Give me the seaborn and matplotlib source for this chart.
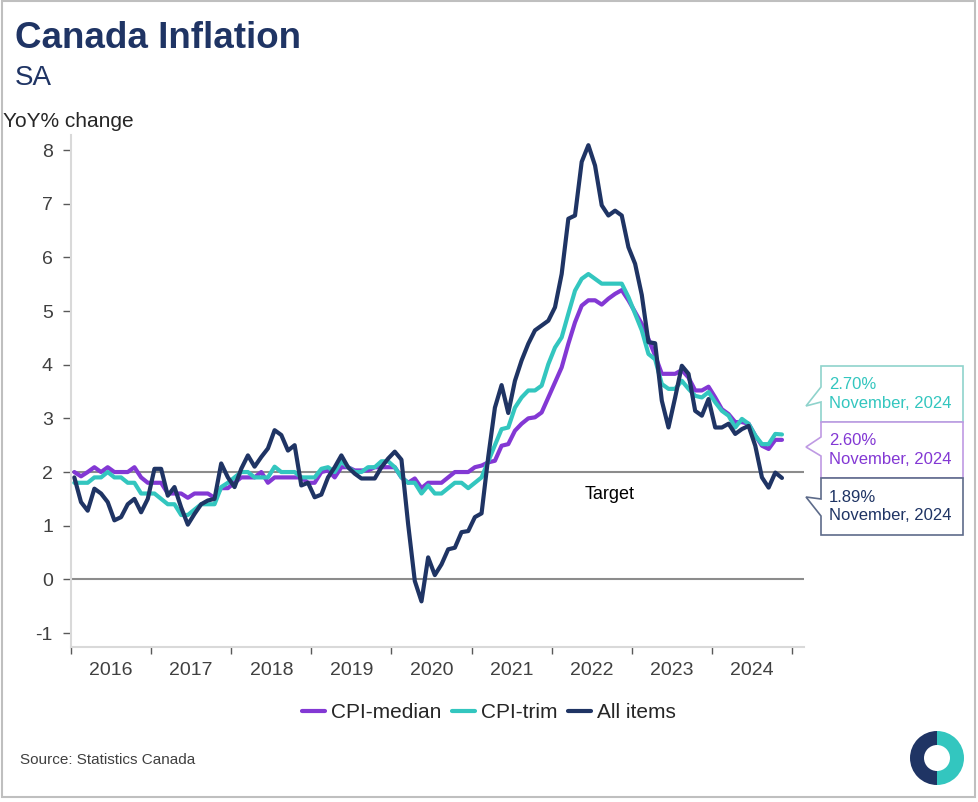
import numpy as np
import pandas as pd
import matplotlib
matplotlib.use("Agg")
import matplotlib.pyplot as plt
import seaborn as sns
from matplotlib.patches import Polygon, Wedge, Rectangle
from matplotlib.lines import Line2D

# ---------------- data ----------------
years = ["2016", "2017", "2018", "2019", "2020", "2021", "2022", "2023", "2024"]
y_ticks = [-1, 0, 1, 2, 3, 4, 5, 6, 7, 8]

all_items = [
    1.90, 1.44, 1.28, 1.69, 1.60, 1.44, 1.10, 1.16, 1.40, 1.50, 1.25, 1.50,
    2.06, 2.06, 1.56, 1.72, 1.34, 1.02, 1.22, 1.40, 1.47, 1.50, 2.16, 1.90,
    1.72, 2.06, 2.31, 2.10, 2.28, 2.44, 2.78, 2.69, 2.40, 2.50, 1.75, 1.80,
    1.53, 1.58, 1.90, 2.09, 2.31, 2.09, 1.97, 1.88, 1.88, 1.88, 2.09, 2.25,
    2.38, 2.23, 1.03, -0.03, -0.41, 0.41, 0.08, 0.28, 0.56, 0.59, 0.88, 0.90,
    1.16, 1.23, 2.28, 3.20, 3.62, 3.10, 3.70, 4.08, 4.39, 4.64, 4.73, 4.82,
    5.07, 5.69, 6.72, 6.78, 7.78, 8.09, 7.71, 6.97, 6.78, 6.87, 6.78, 6.19,
    5.88, 5.30, 4.42, 4.40, 3.33, 2.83, 3.39, 3.98, 3.83, 3.14, 3.05, 3.36,
    2.83, 2.83, 2.90, 2.71, 2.80, 2.86, 2.49, 1.90, 1.71, 1.99, 1.89,
]
cpi_median = [
    2.00, 1.92, 2.00, 2.09, 2.00, 2.09, 2.00, 2.00, 2.00, 2.09, 1.90, 1.80,
    1.80, 1.80, 1.60, 1.60, 1.60, 1.52, 1.60, 1.60, 1.60, 1.52, 1.70, 1.70,
    1.80, 1.90, 1.90, 1.90, 2.00, 1.80, 1.90, 1.90, 1.90, 1.90, 1.90, 1.80,
    1.80, 2.00, 2.03, 1.90, 2.09, 2.09, 2.03, 2.03, 2.03, 2.09, 2.09, 2.09,
    2.09, 1.90, 1.80, 1.88, 1.70, 1.80, 1.80, 1.80, 1.90, 2.00, 2.00, 2.00,
    2.09, 2.12, 2.18, 2.21, 2.49, 2.52, 2.77, 2.90, 3.00, 3.02, 3.11, 3.39,
    3.67, 3.95, 4.39, 4.79, 5.10, 5.20, 5.20, 5.12, 5.23, 5.32, 5.39, 5.20,
    4.98, 4.76, 4.48, 4.17, 3.83, 3.83, 3.83, 3.90, 3.76, 3.52, 3.52, 3.59,
    3.39, 3.17, 3.08, 2.93, 2.93, 2.90, 2.68, 2.49, 2.43, 2.60, 2.60,
]
cpi_trim = [
    1.80, 1.80, 1.80, 1.90, 1.90, 2.00, 1.90, 1.90, 1.80, 1.80, 1.60, 1.60,
    1.60, 1.50, 1.40, 1.40, 1.20, 1.20, 1.30, 1.40, 1.40, 1.40, 1.72, 1.80,
    1.90, 2.00, 2.00, 1.90, 1.90, 1.90, 2.10, 2.00, 2.00, 2.00, 1.90, 1.90,
    1.90, 2.06, 2.09, 2.00, 2.20, 2.09, 2.00, 2.00, 2.09, 2.09, 2.20, 2.20,
    2.09, 1.90, 1.80, 1.80, 1.60, 1.75, 1.60, 1.60, 1.70, 1.80, 1.80, 1.70,
    1.80, 1.90, 2.20, 2.50, 2.80, 2.83, 3.20, 3.39, 3.52, 3.52, 3.61, 4.01,
    4.32, 4.51, 4.95, 5.38, 5.60, 5.69, 5.60, 5.51, 5.51, 5.51, 5.51, 5.26,
    4.95, 4.64, 4.20, 4.10, 3.64, 3.55, 3.55, 3.70, 3.55, 3.42, 3.39, 3.49,
    3.30, 3.14, 3.05, 2.83, 2.99, 2.90, 2.68, 2.52, 2.52, 2.71, 2.70,
]
series_names = ["CPI-median", "CPI-trim", "All items"]
callout_values = ["2.70%", "2.60%", "1.89%"]
callout_date = "November, 2024"

# ---------------- style ----------------
NAVY = "#1f3464"
PURPLE = "#8338d4"
TEAL = "#33c6bf"
TXT = "#404040"

sns.set_style("white")
plt.rcParams["font.family"] = ["Liberation Sans", "DejaVu Sans"]
plt.rcParams["axes.unicode_minus"] = False

W, H = 979, 802
fig = plt.figure(figsize=(W / 100, H / 100), dpi=100)


def fx(x):
    return x / W


def fy(y):
    return 1 - y / H


ax = fig.add_axes([fx(71), fy(647), fx(804) - fx(71), fy(135) - fy(647)])

months = np.arange(len(all_items))
df = pd.DataFrame({
    "month": np.tile(months, 3),
    "value": cpi_median + cpi_trim + all_items,
    "series": np.repeat(series_names, len(months)),
})
palette = {"CPI-median": PURPLE, "CPI-trim": TEAL, "All items": NAVY}

# reference lines (0 and target 2)
ax.axhline(0, color="#8c8c8c", lw=1.5, zorder=1)
ax.axhline(2, color="#8c8c8c", lw=1.5, zorder=1)

sns.lineplot(data=df, x="month", y="value", hue="series", hue_order=series_names,
             palette=palette, lw=3, ax=ax, legend=False, zorder=3)

ax.set_xlim(-0.5, 109.3)
ax.set_ylim(-1.26, 8.28)
ax.set_xlabel("")
ax.set_ylabel("")

for s in ["top", "right"]:
    ax.spines[s].set_visible(False)
for s in ["left", "bottom"]:
    ax.spines[s].set_visible(True)
    ax.spines[s].set_color("#d9d9d9")
    ax.spines[s].set_linewidth(1.5)

ax.set_yticks(y_ticks)
ax.set_yticklabels([str(v) for v in y_ticks])
ax.tick_params(axis="y", direction="out", length=6, width=1, color="#595959",
               labelsize=14, labelcolor=TXT, pad=7, left=True)

year_bounds = [-0.5 + 12 * i for i in range(len(years) + 1)]
ax.set_xticks(year_bounds)
ax.set_xticklabels([""] * len(year_bounds))
ax.set_xticks([5.5 + 12 * i for i in range(len(years))], minor=True)
ax.set_xticklabels(years, minor=True)
ax.tick_params(axis="x", which="major", direction="out", length=5, width=1,
               color="#595959", bottom=True)
ax.tick_params(axis="x", which="minor", length=0, labelsize=14,
               labelcolor=TXT, pad=10.5)
ax.grid(False)

fig.text(fx(585), fy(499), "Target", fontsize=13, color="black", va="baseline")

# titles
fig.text(fx(15), fy(48), "Canada Inflation", fontsize=26.5, fontweight="bold",
         color=NAVY, va="baseline")
fig.text(fx(15), fy(85), "SA", fontsize=20, color=NAVY, va="baseline")
fig.text(fx(3), fy(127), "YoY% change", fontsize=15, color="#262626", va="baseline")
fig.text(fx(20), fy(764), "Source: Statistics Canada", fontsize=11, color=TXT,
         va="baseline")

# legend
handles = [Line2D([0], [0], color=palette[n], lw=3) for n in series_names]
fig.legend(handles, series_names, loc="center", bbox_to_anchor=(fx(489), fy(713)),
           ncol=3, frameon=False, fontsize=15, handlelength=1.1,
           handletextpad=0.3, columnspacing=0.5, labelcolor="#262626")

# callouts
callouts = [
    (366, 422, 387, 402, 406, TEAL, "#8fd3cc"),
    (422, 478, 437, 456, 447, PURPLE, "#bf9ae3"),
    (478, 535, 499, 516, 497, NAVY, "#5d6b8a"),
]
for (top, bot, a1, a2, tip, tcol, ecol), val in zip(callouts, callout_values):
    xl, xr, xt = 821, 963, 806
    pts = [(xl, top), (xr, top), (xr, bot), (xl, bot), (xl, a2), (xt, tip), (xl, a1)]
    poly = Polygon([(fx(x), fy(y)) for x, y in pts], closed=True,
                   transform=fig.transFigure, facecolor="white", edgecolor=ecol,
                   lw=1.2, zorder=5)
    fig.add_artist(poly)
    mid = (top + bot) / 2
    fig.text(fx(829), fy(mid - 9.5), val, fontsize=12, color=tcol, va="center",
             zorder=6)
    fig.text(fx(829), fy(mid + 9.5), callout_date, fontsize=12, color=tcol,
             va="center", zorder=6)

# logo
cx, cy = 937 / 100, (H - 758) / 100
fig.add_artist(Wedge((cx, cy), 0.27, 90, 270, width=0.14, facecolor=NAVY,
                     edgecolor="none", transform=fig.dpi_scale_trans))
fig.add_artist(Wedge((cx, cy), 0.27, -90, 90, width=0.14, facecolor=TEAL,
                     edgecolor="none", transform=fig.dpi_scale_trans))

# outer frame
fig.add_artist(Rectangle((0.015, 0.05), 9.735, 7.955, fill=False,
                         edgecolor="#bfbfbf", lw=1.5,
                         transform=fig.dpi_scale_trans))

fig.savefig("out.png", dpi=100, facecolor="white")
